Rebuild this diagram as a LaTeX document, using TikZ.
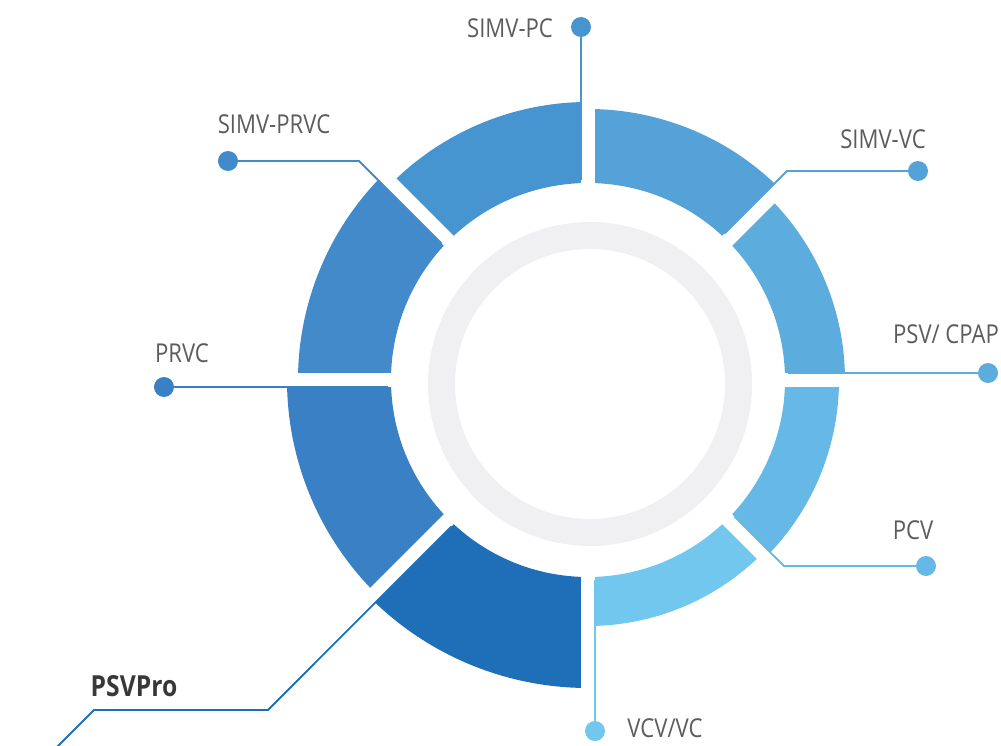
\documentclass[tikz,border=0pt]{standalone}
\usepackage{fontspec}
\setmainfont{Open Sans}[FakeStretch=0.85]
\usepackage{tikz}
\usetikzlibrary{calc}
\definecolor{cpsv}{HTML}{5DACDE}
\definecolor{csvc}{HTML}{55A2D8}
\definecolor{cspc}{HTML}{4695D0}
\definecolor{cspr}{HTML}{438ACA}
\definecolor{cprvc}{HTML}{3981C4}
\definecolor{cpro}{HTML}{1E6FB8}
\definecolor{cvcv}{HTML}{72C7EF}
\definecolor{cpcv}{HTML}{66B8E6}
\definecolor{ringgray}{HTML}{F0F0F2}
\definecolor{labelgray}{HTML}{5C5C5C}

\begin{document}
\begin{tikzpicture}[
      x=1pt,y=1pt,
      conn/.style={line width=1.8pt},
      dot/.style={circle,inner sep=0pt,minimum size=20pt},
      lbl/.style={text=labelgray,font=\fontsize{26}{30}\selectfont,inner sep=0pt},
      gap/.style={white,line width=14pt},
      ]
      \useasboundingbox (-588,-365) rectangle (413,380);
      % ring segments, inner radius 197
      \fill[cpsv] (0:197) arc[start angle=0,end angle=45,radius=197] -- (45:257) arc[start angle=45,end angle=0,radius=257] -- cycle;
      \fill[csvc] (45:197) arc[start angle=45,end angle=90,radius=197] -- (90:271) arc[start angle=90,end angle=45,radius=271] -- cycle;
      \fill[cspc] (90:197) arc[start angle=90,end angle=135,radius=197] -- (135:278) arc[start angle=135,end angle=90,radius=278] -- cycle;
      \fill[cspr] (135:197) arc[start angle=135,end angle=180,radius=197] -- (180:290) arc[start angle=180,end angle=135,radius=290] -- cycle;
      \fill[cprvc] (180:197) arc[start angle=180,end angle=225,radius=197] -- (225:301) arc[start angle=225,end angle=180,radius=301] -- cycle;
      \fill[cpro] (225:197) arc[start angle=225,end angle=270,radius=197] -- (270:308) arc[start angle=270,end angle=225,radius=308] -- cycle;
      \fill[cvcv] (270:197) arc[start angle=270,end angle=315,radius=197] -- (315:246) arc[start angle=315,end angle=270,radius=246] -- cycle;
      \fill[cpcv] (315:197) arc[start angle=315,end angle=360,radius=197] -- (0:251) arc[start angle=0,end angle=-45,radius=251] -- cycle;
      % gaps
      \draw[gap] (0:330) -- (180:330);
      \draw[gap] (45:330) -- (225:330);
      \draw[gap] (90:330) -- (270:330);
      \draw[gap] (135:330) -- (315:330);
      % inner ring
      \draw[ringgray,line width=27pt] (2,-4) circle[radius=148.5];

      % start points on the segment edges
      \coordinate (spsv) at ($(0:200)+(90:7)$);
      \coordinate (ssvc) at ($(45:200)+(135:7)$);
      \coordinate (sspc) at ($(90:200)+(180:7)$);
      \coordinate (sspr) at ($(135:200)+(225:7)$);
      \coordinate (sprvc) at ($(180:200)+(270:7)$);
      \coordinate (spro) at ($(225:200)+(315:7)$);
      \coordinate (svcv) at ($(270:200)+(0:7)$);
      \coordinate (spcv) at ($(315:200)+(45:7)$);
      % bends
      \coordinate (bsvc) at (199,209);
      \coordinate (bspr) at (-229,219);
      \coordinate (bpcv) at (196,-186);
      \coordinate (bpro1) at (-320,-330);
      \coordinate (bpro2) at (-494,-330);
      \coordinate (epro) at (-534,-370);

      % end dots
      \node[dot,fill=cpsv] (dpsv) at (400,7) {};
      \node[dot,fill=csvc] (dsvc) at (330,209) {};
      \node[dot,fill=cspc] (dspc) at (-7,353) {};
      \node[dot,fill=cspr] (dspr) at (-360,219) {};
      \node[dot,fill=cprvc] (dprvc) at (-424,-7) {};
      \node[dot,fill=cvcv] (dvcv) at (7,-351) {};
      \node[dot,fill=cpcv] (dpcv) at (338,-186) {};

      \draw[conn,cpsv] (spsv) -- (dpsv);
      \draw[conn,csvc] (ssvc) -- (bsvc) -- (dsvc);
      \draw[conn,cspc] (sspc) -- (dspc);
      \draw[conn,cspr] (sspr) -- (bspr) -- (dspr);
      \draw[conn,cprvc] (sprvc) -- (dprvc);
      \draw[conn,cpro] (spro) -- (bpro1) -- (bpro2) -- (epro);
      \draw[conn,cvcv] (svcv) -- (dvcv);
      \draw[conn,cpcv] (spcv) -- (bpcv) -- (dpcv);

      % labels
      \node[lbl] (lpsv) at (358,46) {PSV/ CPAP};
      \node[lbl] (lsvc) at (295,241) {SIMV-VC};
      \node[lbl] (lspc) at (-78,352) {SIMV-PC};
      \node[lbl] (lspr) at (-314,256) {SIMV-PRVC};
      \node[lbl] (lprvc) at (-406,27) {PRVC};
      \node[lbl,text=black!78,font=\fontsize{29}{33}\selectfont\bfseries] (lpro) at (-454,-306) {PSVPro};
      \node[lbl] (lvcv) at (77,-348) {VCV/VC};
      \node[lbl] (lpcv) at (325,-150) {PCV};
    \end{tikzpicture}
\end{document}
